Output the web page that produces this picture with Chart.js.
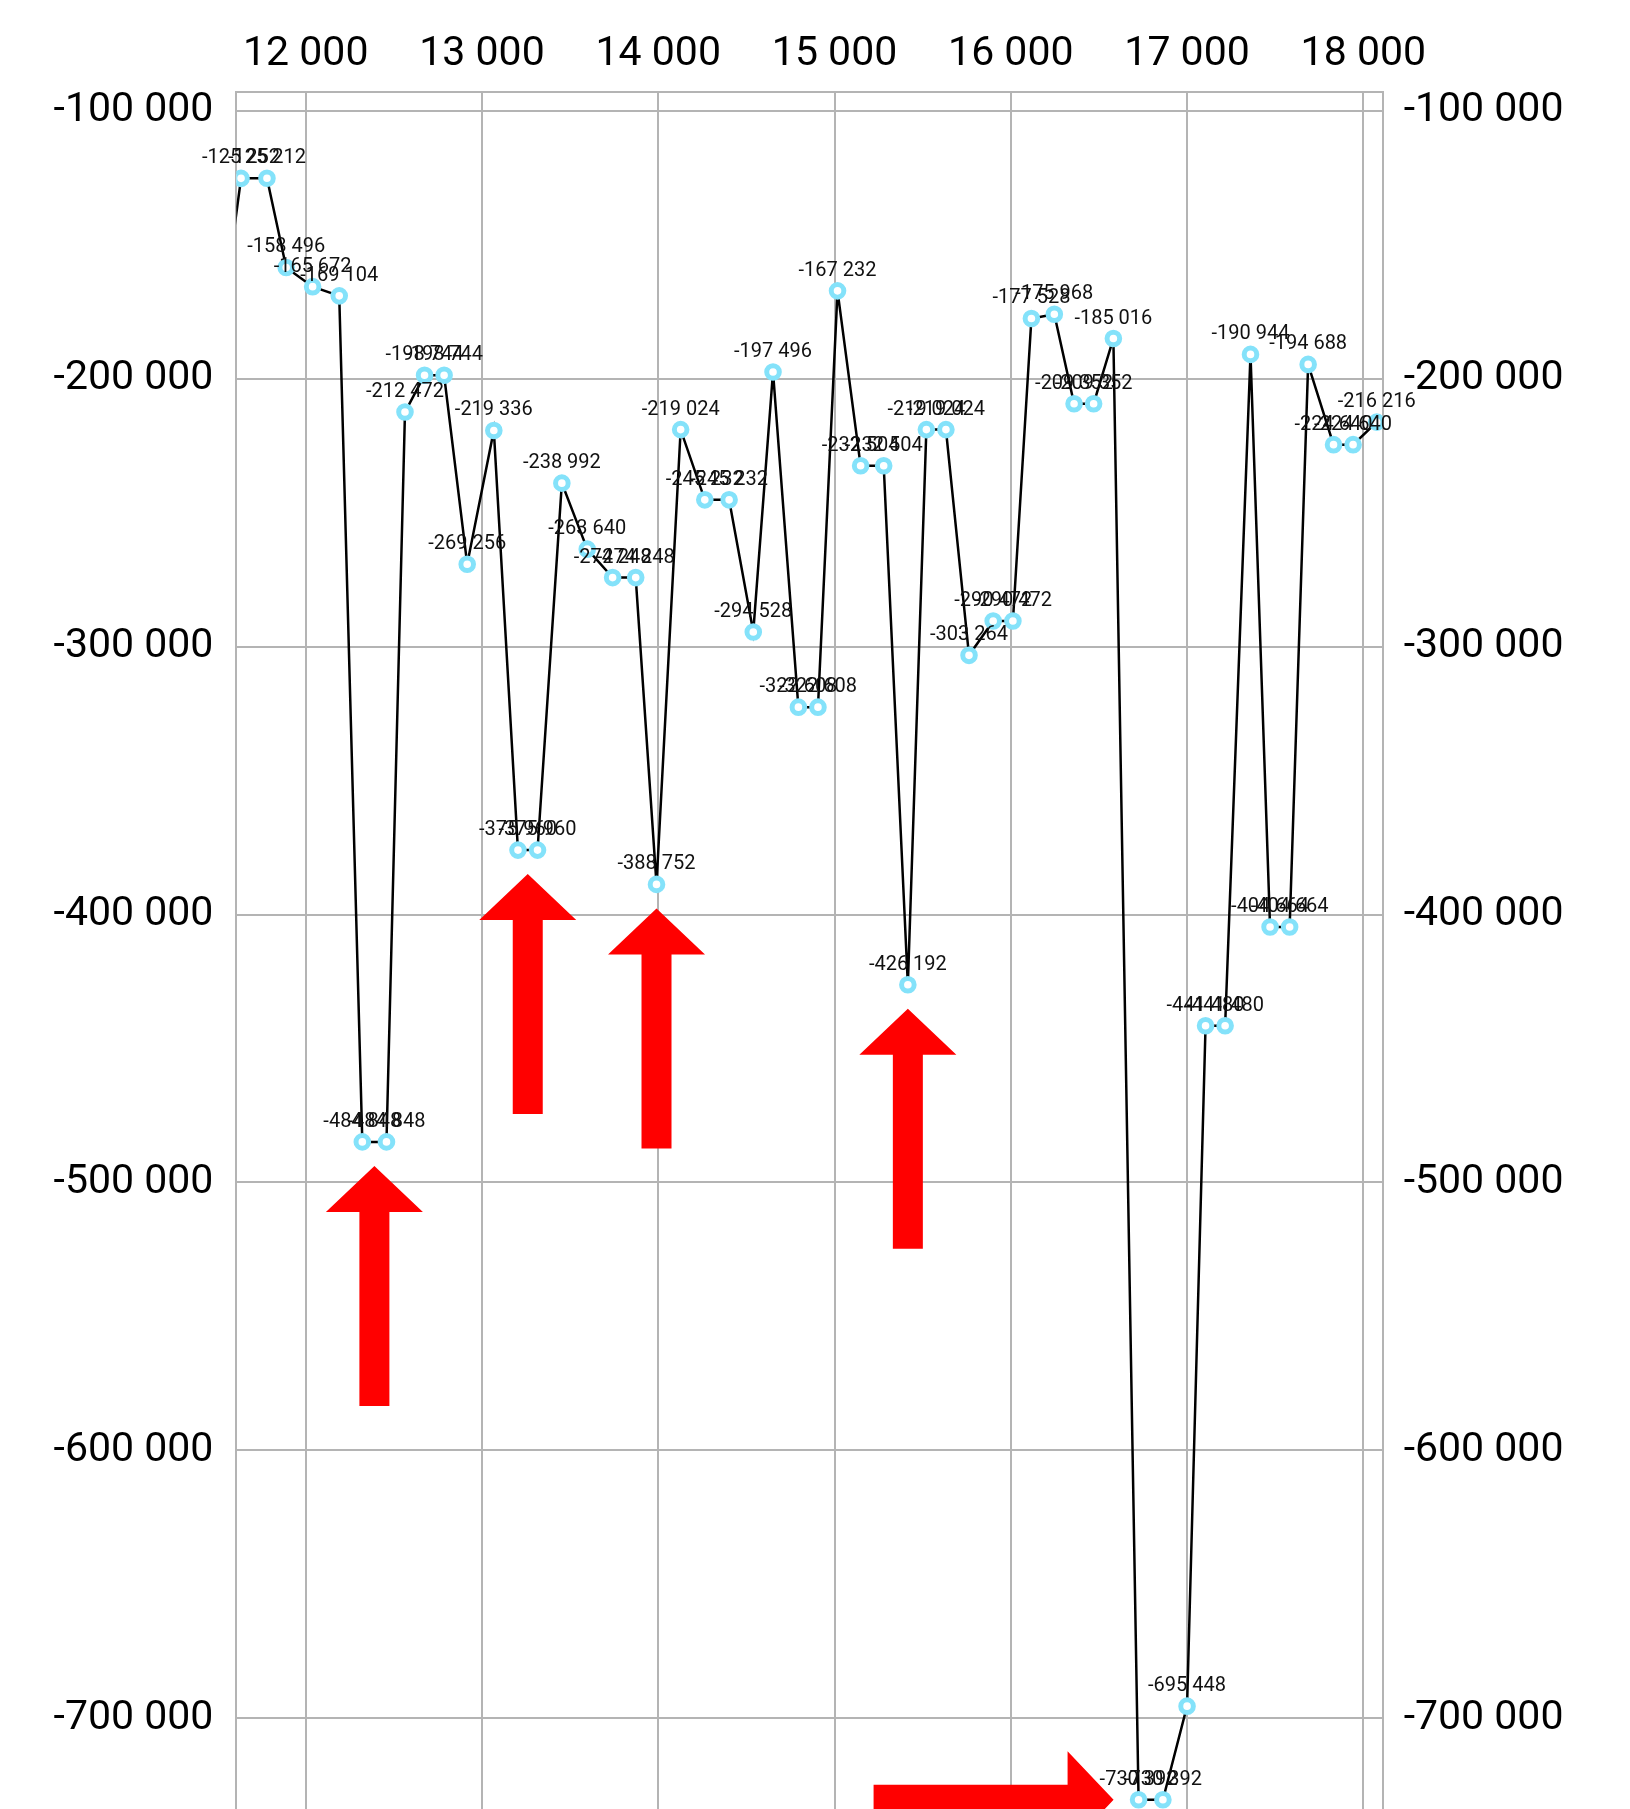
<!DOCTYPE html>
<html>
<head>
<meta charset="utf-8">
<script src="https://cdn.jsdelivr.net/npm/chart.js@4.4.0/dist/chart.umd.min.js"></script>
<style>
  html, body { margin: 0; padding: 0; background: #fff; overflow: hidden; }
  #wrap { width: 1630px; height: 1809px; overflow: hidden; }
</style>
</head>
<body>
<div id="wrap"><canvas id="chart" width="1630" height="1821"></canvas></div>
<script>
// x positions of the samples (first one lies left of the visible range)
const xValues = [11500, 11633, 11780, 11889, 12039, 12190, 12321, 12458, 12563, 12674,
  12785, 12916, 13067, 13204, 13315, 13453, 13597, 13741, 13872, 13990,
  14127, 14264, 14402, 14539, 14651, 14795, 14906, 15017, 15148, 15279,
  15416, 15521, 15632, 15763, 15900, 16012, 16117, 16247, 16359, 16470,
  16582, 16725, 16863, 17000, 17105, 17216, 17360, 17471, 17582, 17687,
  17831, 17942, 18076];

const values = [-190000, -125252, -125212, -158496, -165672, -169104, -484848, -484848, -212472, -198744,
  -198744, -269256, -219336, -375960, -375960, -238992, -263640, -274248, -274248, -388752,
  -219024, -245232, -245232, -294528, -197496, -322608, -322608, -167232, -232504, -232504,
  -426192, -219024, -219024, -303264, -290472, -290472, -177528, -175968, -209352, -209352,
  -185016, -730392, -730392, -695448, -441480, -441480, -190944, -404664, -404664, -194688,
  -224640, -224640, -216216];

// axis ranges and tick labels
const xMin = 11606, xMax = 18110;
const xTicks = [12000, 13000, 14000, 15000, 16000, 17000, 18000];
const yMin = -734090, yMax = -92906;
const yTicks = [-100000, -200000, -300000, -400000, -500000, -600000, -700000];

// red arrows: which points they point at
const arrowsUp = [[6, 7], [13, 14], [19], [30]];
const arrowsRight = [[41]];

function fmt(v) {
  return Math.round(v).toString().replace(/\B(?=(\d{3})+(?!\d))/g, ' ');
}

const pointLabels = {
  id: 'pointLabels',
  afterDatasetsDraw(chart) {
    const {ctx, chartArea} = chart;
    const meta = chart.getDatasetMeta(0);
    ctx.save();
    ctx.font = '20px Roboto';
    ctx.fillStyle = '#111';
    ctx.textAlign = 'center';
    ctx.textBaseline = 'alphabetic';
    meta.data.forEach((pt, i) => {
      if (pt.x < chartArea.left || pt.x > chartArea.right) return;
      ctx.fillText(fmt(values[i]), pt.x, pt.y - 15);
    });
    ctx.restore();
  }
};

function drawArrow(ctx, tx, ty, dx, dy) {
  const nx = -dy, ny = dx;
  const headLen = 46, headHalf = 48.5, shaftHalf = 15, total = 240;
  const bx = tx - dx * headLen, by = ty - dy * headLen;
  const ex = tx - dx * total, ey = ty - dy * total;
  ctx.beginPath();
  ctx.moveTo(tx, ty);
  ctx.lineTo(bx + nx * headHalf, by + ny * headHalf);
  ctx.lineTo(bx + nx * shaftHalf, by + ny * shaftHalf);
  ctx.lineTo(ex + nx * shaftHalf, ey + ny * shaftHalf);
  ctx.lineTo(ex - nx * shaftHalf, ey - ny * shaftHalf);
  ctx.lineTo(bx - nx * shaftHalf, by - ny * shaftHalf);
  ctx.lineTo(bx - nx * headHalf, by - ny * headHalf);
  ctx.closePath();
  ctx.fill();
}

const arrows = {
  id: 'arrows',
  afterDraw(chart) {
    const {ctx} = chart;
    const meta = chart.getDatasetMeta(0);
    ctx.save();
    ctx.fillStyle = '#ff0000';
    arrowsUp.forEach(idx => {
      const xs = idx.map(i => meta.data[i].x);
      const ys = idx.map(i => meta.data[i].y);
      const x = xs.reduce((a, b) => a + b, 0) / xs.length;
      drawArrow(ctx, x, Math.max(...ys) + 24, 0, -1);
    });
    arrowsRight.forEach(idx => {
      const xs = idx.map(i => meta.data[i].x);
      const ys = idx.map(i => meta.data[i].y);
      const y = ys.reduce((a, b) => a + b, 0) / ys.length;
      drawArrow(ctx, Math.min(...xs) - 25, y, 1, 0);
    });
    ctx.restore();
  }
};

const gridColor = '#b4b4b4';
const tickFont = {family: 'Roboto', size: 41};

function fixWidth(w) {
  return s => { s.width = w; s.paddingTop = 0; s.paddingBottom = 0; };
}

new Chart(document.getElementById('chart'), {
  type: 'line',
  data: {
    datasets: [{
      data: xValues.map((x, i) => ({x: x, y: values[i]})),
      borderColor: '#000',
      borderWidth: 2.5,
      pointRadius: 6.3,
      pointBorderWidth: 5,
      pointBorderColor: '#84e2fa',
      pointBackgroundColor: '#fff',
      tension: 0,
      fill: false
    }]
  },
  options: {
    responsive: false,
    devicePixelRatio: 1,
    animation: false,
    layout: {padding: 0},
    plugins: {
      legend: {display: false},
      tooltip: {enabled: false}
    },
    scales: {
      x: {
        type: 'linear',
        position: 'top',
        min: xMin,
        max: xMax,
        afterBuildTicks: s => { s.ticks = xTicks.map(v => ({value: v})); },
        afterFit: s => { s.height = 91.7; s.paddingLeft = 0; s.paddingRight = 0; },
        ticks: {
          color: '#000',
          font: tickFont,
          padding: 12.5,
          maxRotation: 0,
          autoSkip: false,
          callback: v => fmt(v)
        },
        grid: {color: gridColor, lineWidth: 2, drawTicks: false},
        border: {color: gridColor, width: 2}
      },
      y: {
        position: 'left',
        min: yMin,
        max: yMax,
        afterBuildTicks: s => { s.ticks = yTicks.map(v => ({value: v})); },
        afterFit: fixWidth(236.3),
        ticks: {
          color: '#000',
          font: tickFont,
          padding: 23,
          autoSkip: false,
          callback: v => fmt(v)
        },
        grid: {color: gridColor, lineWidth: 2, drawTicks: false},
        border: {color: gridColor, width: 2}
      },
      y2: {
        position: 'right',
        min: yMin,
        max: yMax,
        afterBuildTicks: s => { s.ticks = yTicks.map(v => ({value: v})); },
        afterFit: fixWidth(247.3),
        ticks: {
          color: '#000',
          font: tickFont,
          padding: 21,
          autoSkip: false,
          callback: v => fmt(v)
        },
        grid: {drawOnChartArea: false, drawTicks: false},
        border: {color: gridColor, width: 2}
      }
    }
  },
  plugins: [pointLabels, arrows]
});
</script>
</body>
</html>
